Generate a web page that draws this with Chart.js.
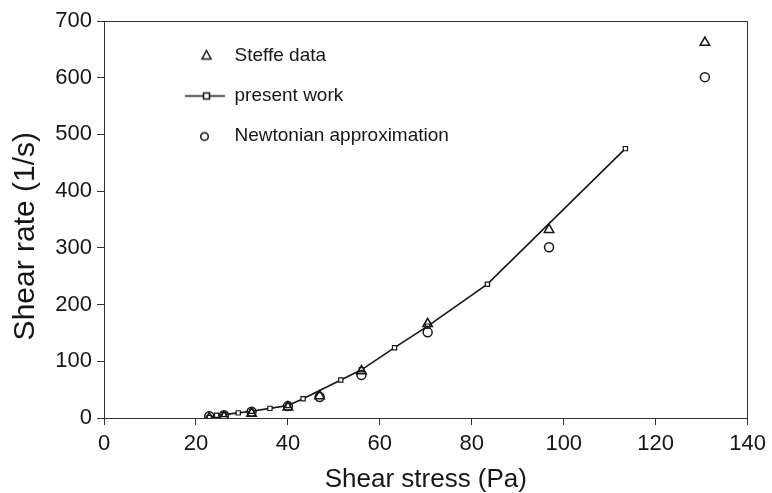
<!DOCTYPE html>
<html><head><meta charset="utf-8">
<script src="https://cdn.jsdelivr.net/npm/chart.js@4/dist/chart.umd.min.js"></script>
<style>html,body{margin:0;padding:0;background:#fff}#wrap{width:772px;height:493px}</style>
</head><body><div id="wrap"><canvas id="c" width="772" height="493"></canvas></div>
<script>
const seriesNames = ['Steffe data', 'present work', 'Newtonian approximation'];
const steffeStress = [22.9, 26.1, 32.1, 40.0, 46.9, 56.0, 70.4, 96.8, 130.7];
const steffeRate   = [0, 2, 8, 19, 39, 83, 166, 332, 662];
const presentStress = [22.9, 24.5, 26.1, 29.2, 32.1, 36.1, 40.0, 43.3, 51.5, 56.0, 63.2, 70.4, 83.4, 113.4];
const presentRate   = [1, 5, 6, 9, 12, 17, 22, 34, 67, 85, 124, 162, 236, 475];
const newtonStress = [22.9, 26.1, 32.1, 40.0, 46.9, 56.0, 70.4, 96.8, 130.7];
const newtonRate   = [3, 5, 11, 21, 37, 76, 151, 301, 601];
const xTicks = [0, 20, 40, 60, 80, 100, 120, 140];
const yTicks = [0, 100, 200, 300, 400, 500, 600, 700];
const xTitle = 'Shear stress (Pa)';
const yTitle = 'Shear rate (1/s)';

const INK = '#161616';
const FONT = "'Liberation Sans', Arial, Helvetica, sans-serif";

function pts(xs, ys) { return xs.map((x, i) => ({ x: x, y: ys[i] })); }

function makeSymbol(kind) {
  const c = document.createElement('canvas');
  c.width = 100; c.height = 16;
  const g = c.getContext('2d');
  g.strokeStyle = INK; g.fillStyle = '#fff'; g.lineWidth = 1.5;
  const cx = 81.5, cy = 8;
  if (kind === 'triangle') {
    g.beginPath(); g.moveTo(cx, cy - 5); g.lineTo(cx + 4.5, cy + 3.5); g.lineTo(cx - 4.5, cy + 3.5); g.closePath();
    g.fill(); g.stroke();
  } else if (kind === 'line') {
    g.beginPath(); g.moveTo(60, cy + 0.5); g.lineTo(100, cy + 0.5); g.stroke();
    g.beginPath(); g.rect(cx - 3, cy - 2.5, 6, 6); g.fill(); g.stroke();
  } else {
    g.beginPath(); g.arc(cx - 2, cy + 1, 3.8, 0, Math.PI * 2); g.fill(); g.stroke();
  }
  return c;
}
const legendSymbols = [makeSymbol('triangle'), makeSymbol('line'), makeSymbol('circle')];

const framePlugin = {
  id: 'frame',
  afterDatasetsDraw(chart) {
    const a = chart.chartArea, ctx = chart.ctx;
    ctx.save();
    ctx.strokeStyle = '#333'; ctx.lineWidth = 1;
    ctx.beginPath();
    const l = Math.round(a.left) + 0.5, t = Math.round(a.top) + 0.5, r = Math.round(a.right) - 0.5, b = Math.round(a.bottom) + 0.5;
    ctx.moveTo(l, t); ctx.lineTo(r, t); ctx.lineTo(r, b);
    ctx.stroke();
    ctx.restore();
  }
};

new Chart(document.getElementById('c'), {
  type: 'scatter',
  data: {
    datasets: [
      { label: seriesNames[0], data: pts(steffeStress, steffeRate), showLine: false,
        pointStyle: 'triangle', pointRadius: 5.5, pointBorderWidth: 1.5,
        pointBorderColor: INK, pointBackgroundColor: 'rgba(255,255,255,0)', borderColor: INK, backgroundColor: '#fff', order: 1 },
      { label: seriesNames[1], data: pts(presentStress, presentRate), showLine: true,
        pointStyle: 'rect', pointRadius: 3, pointBorderWidth: 1.2, borderWidth: 1.6,
        borderColor: INK, pointBorderColor: INK, pointBackgroundColor: '#fff', backgroundColor: '#fff', tension: 0, order: 2 },
      { label: seriesNames[2], data: pts(newtonStress, newtonRate), showLine: false,
        pointStyle: 'circle', pointRadius: 4.5, pointBorderWidth: 1.5,
        pointBorderColor: INK, pointBackgroundColor: 'rgba(255,255,255,0)', borderColor: INK, backgroundColor: '#fff', order: 0 }
    ]
  },
  options: {
    responsive: false, animation: false, maintainAspectRatio: false,
    layout: { padding: { top: 21, right: 20, left: 0, bottom: 0 } },
    plugins: {
      tooltip: { enabled: false },
      legend: {
        position: 'chartArea', align: 'start',
        title: { display: true, text: ' ', font: { size: 1, lineHeight: 1 }, padding: { top: 24, bottom: 0 } },
        labels: {
          usePointStyle: true, pointStyleWidth: 100, padding: 21,
          color: INK, font: { family: FONT, size: 19 },
          generateLabels(chart) {
            return chart.data.datasets.map((ds, i) => ({
              text: ds.label, pointStyle: legendSymbols[i], datasetIndex: i,
              fillStyle: '#fff', strokeStyle: INK, lineWidth: 0, hidden: false, fontColor: INK
            }));
          }
        }
      }
    },
    scales: {
      x: {
        type: 'linear', min: 0, max: 140,
        afterBuildTicks(s) { s.ticks = xTicks.map(v => ({ value: v })); },
        afterFit(s) { s.height = 75; },
        ticks: { color: INK, font: { family: FONT, size: 22 }, padding: 6, maxRotation: 0 },
        grid: { drawOnChartArea: false, drawTicks: true, tickLength: 7, color: '#333', lineWidth: 1 },
        border: { display: true, color: '#333', width: 1 },
        title: { display: true, text: xTitle, color: INK, font: { family: FONT, size: 26, lineHeight: 1 }, padding: { top: 0, bottom: 0 } }
      },
      y: {
        type: 'linear', min: 0, max: 700,
        afterBuildTicks(s) { s.ticks = yTicks.map(v => ({ value: v })); },
        afterFit(s) { s.width = 104; },
        ticks: { color: INK, font: { family: FONT, size: 22 }, padding: 5 },
        grid: { drawOnChartArea: false, drawTicks: true, tickLength: 7, color: '#333', lineWidth: 1 },
        border: { display: true, color: '#333', width: 1 },
        title: { display: true, text: yTitle + '    ', color: INK, font: { family: FONT, size: 30, lineHeight: 1 }, padding: { top: 11, bottom: 0 } }
      }
    }
  },
  plugins: [framePlugin]
});
</script></body></html>
